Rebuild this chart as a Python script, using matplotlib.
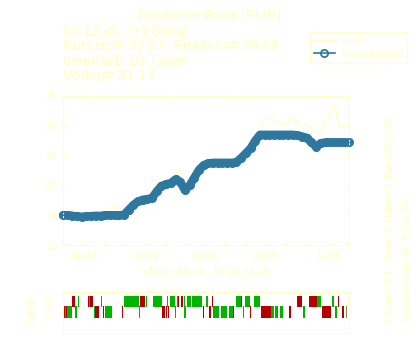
import matplotlib
matplotlib.use("Agg")
import matplotlib.pyplot as plt
import matplotlib.dates as mdates
import pandas as pd

plt.rcParams['font.family'] = ['Liberation Sans', 'DejaVu Sans']

# weekly samples, Di 01.10.24 - Di 02.12.25
dates = pd.date_range('2024-10-01', periods=62, freq='7D')

kurs = [15.0, 15.3, 15.9, 15.2, 14.8, 14.8, 14.9, 15.0, 15.1, 15.5,
        16.3, 16.6, 16.0, 15.3, 16.0, 16.9, 17.5, 18.2, 17.8, 18.3,
        19.4, 20.2, 20.7, 20.9, 21.8, 22.5, 18.2, 19.6, 21.0, 22.5,
        23.6, 24.0, 24.3, 24.2, 24.4, 24.3, 24.5, 24.6, 25.3, 26.0,
        27.0, 28.0, 28.8, 31.0, 31.4, 31.2, 30.4, 30.2, 30.6, 31.8,
        30.3, 30.0, 30.2, 29.8, 28.9, 29.0, 31.0, 32.0, 33.5, 29.6,
        30.2, 30.6]

musterdepot = [15.0, 15.0, 14.9, 14.8, 14.75, 14.8, 14.85, 14.9, 14.9, 15.0,
               15.0, 15.0, 15.0, 15.05, 15.9, 16.7, 17.3, 17.6, 17.7, 17.9,
               19.0, 19.9, 20.2, 20.4, 21.0, 20.6, 19.2, 20.0, 21.3, 22.6,
               23.4, 23.7, 23.8, 23.8, 23.8, 23.8, 23.8, 23.9, 24.6, 25.4,
               26.2, 27.5, 28.5, 28.5, 28.5, 28.5, 28.5, 28.5, 28.5, 28.5,
               28.4, 28.2, 28.0, 27.2, 26.5, 27.1, 27.2, 27.2, 27.2, 27.2,
               27.2, 27.2]

# signal periods in days since 01.10.24: (start, end, colour code)
signal_plus = [(13.4, 17.9, 'r'), (21.9, 23.4, 'g'), (23.4, 24.4, 'r'),
               (37.3, 39.3, 'r'), (39.3, 40.8, 'g'), (40.8, 42.8, 'r'),
               (42.8, 43.7, 'g'), (43.7, 45.2, 'r'), (56.7, 57.8, 'g'),
               (91.1, 113.5, 'g'), (115.4, 122.4, 'r'), (123.5, 125.9, 'g'),
               (133.9, 147.4, 'g'), (154.8, 156.3, 'g'), (159.7, 167.2, 'g'),
               (170.2, 172.1, 'g'), (172.1, 173.6, 'r'), (175.7, 178.7, 'r'),
               (180.6, 182.1, 'g'), (184.7, 191.1, 'g'), (192.6, 207.1, 'g'),
               (213.5, 216.5, 'g'), (222.0, 223.5, 'r'), (258.3, 265.3, 'g'),
               (265.3, 267.7, 'r'), (271.7, 279.2, 'g'), (285.2, 293.7, 'g'),
               (348.9, 356.8, 'r'), (367.3, 379.7, 'r'), (379.7, 384.7, 'g'),
               (401.2, 404.6, 'g'), (410.6, 411.6, 'r'), (425.0, 427.0, 'y')]

signal_minus = [(0.4, 2.5, 'r'), (2.5, 4.0, 'g'), (4.0, 6.4, 'r'),
                (6.4, 13.9, 'g'), (17.9, 20.5, 'g'), (46.3, 47.8, 'g'),
                (47.8, 53.7, 'r'), (60.2, 61.7, 'r'), (62.7, 73.6, 'g'),
                (87.6, 89.6, 'r'), (113.0, 114.5, 'g'), (147.4, 152.7, 'r'),
                (153.8, 155.3, 'r'), (156.3, 157.8, 'r'), (167.2, 169.2, 'g'),
                (180.6, 183.6, 'g'), (209.5, 211.0, 'r'), (218.0, 221.0, 'r'),
                (223.5, 233.4, 'g'), (235.4, 245.3, 'g'), (247.1, 254.3, 'g'),
                (254.3, 255.8, 'r'), (268.3, 269.8, 'g'), (279.2, 280.7, 'r'),
                (295.6, 310.5, 'r'), (310.5, 315.0, 'g'), (317.0, 321.7, 'g'),
                (324.0, 329.2, 'g'), (337.9, 340.0, 'r'), (358.3, 361.3, 'g'),
                (386.7, 399.7, 'r'), (406.2, 408.7, 'g'), (416.1, 420.0, 'r'),
                (422.1, 423.6, 'o')]

signal_ticks = [57.8, 128.4, 199.6, 269.2, 337.9, 408.6]

pale = '#FFFFC0'
blue = '#2E78A0'
sig_colors = {'r': '#B40000', 'g': '#00B400', 'y': pale, 'o': '#858545'}

fig = plt.figure(figsize=(4.2, 3.5), dpi=100)
fig.patch.set_facecolor('white')

# --- main chart ---
ax = fig.add_axes([63 / 420, 1 - 245 / 350, 286 / 420, 149 / 350])
kurs_line, = ax.plot(dates, kurs, color=pale, lw=0.9, label='Kurs', zorder=1)
# solid band under the circles (the original has one circle per day)
ax.plot(dates, musterdepot, color=blue, lw=6.0, solid_capstyle='round',
        solid_joinstyle='round', clip_on=False, zorder=2)
depot_line, = ax.plot(dates, musterdepot, 'o-', color=blue, mfc='none',
                      ms=5.2, mew=1.3, lw=1.2, clip_on=False,
                      label='Musterdepot', zorder=3)

ax.set_xlim(pd.Timestamp('2024-10-01'), pd.Timestamp('2025-12-02'))
ax.set_ylim(10, 35)
ax.set_yticks([10, 15, 20, 25, 30, 35])
ax.xaxis.set_major_locator(mdates.MonthLocator(bymonth=[2, 5, 8, 11]))
ax.xaxis.set_minor_locator(mdates.MonthLocator())
ax.xaxis.set_major_formatter(mdates.DateFormatter('%m/%y'))
ax.tick_params(which='both', direction='in', length=3, width=0.8,
               colors=pale, top=True, right=True, labelsize=7.8, pad=4)
for s in ax.spines.values():
    s.set_color(pale)
    s.set_linewidth(0.8)

ax.set_xlabel('»Di,01.10.24 - Di,02.12.25', color=pale, fontsize=7.8,
              va='center')
ax.xaxis.set_label_coords(0.5, -27 / 149)

leg = fig.legend(handles=[kurs_line, depot_line],
                 loc='upper left', bbox_to_anchor=(310 / 420, 1 - 32 / 350),
                 borderaxespad=0, fontsize=8, frameon=True, fancybox=False,
                 borderpad=0.35, labelspacing=0.25, handlelength=1.9,
                 handletextpad=0.55)
leg.get_frame().set_edgecolor(pale)
leg.get_frame().set_linewidth(1.0)
for t in leg.get_texts():
    t.set_color(pale)

# --- header texts ---
fig.text(209 / 420, 1 - 20 / 350, 'Deutsche Bank [EUR]', color=pale,
         fontsize=10.5, ha='center', va='baseline')
info_lines = ['03.12.25: (+) Steigt', 'Kursziel= 32.07  Stoploss= 28.08',
              'innerhalb 10-Tagen', 'Vortag= 31.13']
for i, line in enumerate(info_lines):
    fig.text(63 / 420, 1 - (35 + 15 * i) / 350, line, color=pale,
             fontsize=10.5, ha='left', va='baseline')

fig.text(390 / 420, 1 - 322 / 350, 'Einsatz=0.1 , Rate=1, Hebel=3 (BenchTyp=0)',
         color=pale, fontsize=7.3, rotation=90, ha='center', va='bottom')
fig.text(408 / 420, 1 - 322 / 350, 'System-Code: ACTG2D ZF',
         color=pale, fontsize=7.3, rotation=90, ha='center', va='bottom')

# --- signal panel ---
ax2 = fig.add_axes([63 / 420, 1 - 333 / 350, 286 / 420, 41 / 350])
for row, segs in [(1, signal_plus), (0, signal_minus)]:
    ax2.broken_barh([(a, b - a) for a, b, c in segs], (row - 0.55, 1.1),
                    facecolors=[sig_colors[c] for a, b, c in segs],
                    edgecolor='none')
ax2.set_xlim(0, 427)
ax2.set_ylim(-2, 1.9)
ax2.set_yticks([1, 0], ['(+)', '(-)'])
for t in ax2.get_yticklabels():
    t.set_rotation(90)
    t.set_va('center')
ax2.xaxis.tick_top()
ax2.set_xticks(signal_ticks)
ax2.set_xticklabels([])
ax2.tick_params(which='both', direction='out', length=3, width=0.8,
                colors=pale, labelsize=7.5, pad=3)
for s in ax2.spines.values():
    s.set_color(pale)
    s.set_linewidth(0.8)
ax2.set_ylabel('Signal', color=pale, fontsize=8, va='center')
ax2.yaxis.set_label_coords(-32 / 286, 0.5)

fig.savefig('out.png', dpi=100, facecolor='white')
